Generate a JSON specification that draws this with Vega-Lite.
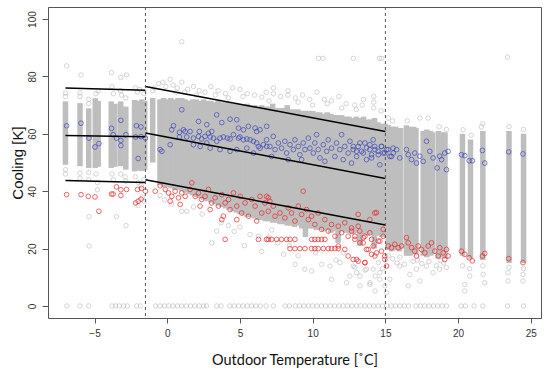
{
  "$schema": "https://vega.github.io/schema/vega-lite/v6.json",
  "width": 493,
  "height": 311,
  "autosize": {"type": "none"},
  "padding": {"left": 48, "top": 7, "right": 9, "bottom": 55},
  "background": "white",
  "config": {
    "view": {"stroke": "#555", "strokeWidth": 1},
    "axis": {"grid": false, "domain": false, "tickColor": "#555", "labelFont": "Liberation Sans", "labelFontSize": 10, "labelColor": "#333"}
  },
  "datasets": {
    "cols": [
      {"x":-7,"lo":49.2,"hi":71.3},{"x":-6,"lo":48.7,"hi":70.7},{"x":-5.4,"lo":48.1,"hi":68.9},{"x":-4.95,"lo":48.1,"hi":72.4},{"x":-4.75,"lo":48.5,"hi":71.5},
      {"x":-3.85,"lo":48.1,"hi":71.3},{"x":-3.6,"lo":48.5,"hi":70.5},{"x":-3.2,"lo":48.7,"hi":71.3},{"x":-2.85,"lo":47.5,"hi":69.5},
      {"x":-2.25,"lo":46.9,"hi":71.8},{"x":-2.0,"lo":47.2,"hi":71.5},{"x":-1.75,"lo":47,"hi":72},{"x":-1.55,"lo":47.5,"hi":71.5},
      {"x":-1.0,"lo":50,"hi":72.5},
      {"x":-0.5,"lo":42,"hi":72},{"x":-0.25,"lo":41.5,"hi":72.5},{"x":0,"lo":41.5,"hi":72},{"x":0.25,"lo":41,"hi":72.5},{"x":0.5,"lo":40.5,"hi":72},{"x":0.75,"lo":40.5,"hi":72.5},
      {"x":1.0,"lo":40,"hi":72.5},{"x":1.25,"lo":39.5,"hi":72},{"x":1.5,"lo":39,"hi":71.5},{"x":1.75,"lo":38.5,"hi":72},{"x":2.0,"lo":38,"hi":72},{"x":2.25,"lo":37.5,"hi":71.5},
      {"x":2.5,"lo":37,"hi":72},{"x":2.75,"lo":36.5,"hi":71.5},{"x":3.0,"lo":36,"hi":71.5},{"x":3.25,"lo":35.5,"hi":71},{"x":3.5,"lo":35,"hi":71.5},{"x":3.75,"lo":34.5,"hi":71},
      {"x":4.0,"lo":34,"hi":71},{"x":4.25,"lo":33.5,"hi":71},{"x":4.5,"lo":33,"hi":70.5},{"x":4.75,"lo":32.5,"hi":70.5},{"x":5.0,"lo":32,"hi":70.5},{"x":5.25,"lo":31.5,"hi":70},
      {"x":5.5,"lo":31,"hi":70.5},{"x":5.75,"lo":31,"hi":70},{"x":6.0,"lo":30.5,"hi":70},{"x":6.25,"lo":30,"hi":69.5},{"x":6.5,"lo":30,"hi":70},{"x":6.75,"lo":29.5,"hi":69.5},
      {"x":7.0,"lo":29.5,"hi":69.5},{"x":7.25,"lo":29,"hi":70.5},{"x":7.5,"lo":29,"hi":69},{"x":7.75,"lo":28.5,"hi":69},{"x":8.0,"lo":28.5,"hi":69},{"x":8.25,"lo":28,"hi":70},
      {"x":8.5,"lo":28,"hi":68.5},{"x":8.75,"lo":27.5,"hi":68.5},{"x":9.0,"lo":28,"hi":68.5},{"x":9.25,"lo":27,"hi":68},{"x":9.5,"lo":24,"hi":68},{"x":9.75,"lo":27,"hi":68},
      {"x":10.0,"lo":27,"hi":68},{"x":10.25,"lo":26.5,"hi":67.5},{"x":10.5,"lo":26.5,"hi":67.5},{"x":10.75,"lo":26,"hi":67},{"x":11.0,"lo":26.5,"hi":67.5},{"x":11.25,"lo":25.5,"hi":67},
      {"x":11.5,"lo":26,"hi":66.5},{"x":11.75,"lo":22,"hi":66.5},{"x":12.0,"lo":26,"hi":66.5},{"x":12.25,"lo":25.5,"hi":66},{"x":12.5,"lo":25.5,"hi":66},{"x":12.75,"lo":25,"hi":65.5},
      {"x":13.0,"lo":25.5,"hi":66},{"x":13.25,"lo":21,"hi":65.5},{"x":13.5,"lo":25,"hi":66},{"x":13.75,"lo":24.5,"hi":65},{"x":14.0,"lo":25,"hi":65},{"x":14.25,"lo":20,"hi":65.5},
      {"x":14.5,"lo":24.5,"hi":64},{"x":14.75,"lo":24,"hi":63.5},{"x":15.0,"lo":24,"hi":63.5},
      {"x":15.2,"lo":19.5,"hi":63},{"x":15.45,"lo":19,"hi":62.5},{"x":15.7,"lo":19.5,"hi":62.5},{"x":15.95,"lo":19,"hi":62},{"x":16.05,"lo":20,"hi":62},
      {"x":16.45,"lo":17.5,"hi":63},{"x":16.7,"lo":17.5,"hi":62.5},{"x":16.95,"lo":18,"hi":62.5},{"x":17.1,"lo":18,"hi":62},
      {"x":17.6,"lo":17.5,"hi":61},{"x":17.85,"lo":17,"hi":61.5},{"x":18.1,"lo":17.5,"hi":61},{"x":18.25,"lo":18,"hi":60.5},
      {"x":18.65,"lo":16.5,"hi":61},{"x":18.9,"lo":17,"hi":60.5},{"x":19.1,"lo":16.5,"hi":60.5},
      {"x":20.3,"lo":17.5,"hi":60},{"x":20.85,"lo":16.5,"hi":58},
      {"x":21.7,"lo":16,"hi":61},{"x":23.5,"lo":15,"hi":61},{"x":24.5,"lo":15,"hi":60}
    ],
    "gray": [
      {"x":-6.92,"y":83.7},{"x":-5.93,"y":80.5},{"x":-3.83,"y":81.3},{"x":-3.19,"y":79.6},{"x":-2.8,"y":80.5},
      {"x":-7,"y":74.2},{"x":-7,"y":73},{"x":-6,"y":73},{"x":-6,"y":74.3},{"x":-5.4,"y":72},{"x":-5.4,"y":70.5},{"x":-4.9,"y":74},{"x":-4.75,"y":75},{"x":-3.8,"y":76.5},{"x":-3.7,"y":74},{"x":-3.2,"y":75},{"x":-3.15,"y":73.5},{"x":-2.85,"y":72.5},{"x":-2.2,"y":76},{"x":-2.05,"y":74.5},{"x":-1.9,"y":75.5},{"x":-1.6,"y":74},
      {"x":-7,"y":47.5},{"x":-7,"y":46},{"x":-6,"y":46.3},{"x":-6,"y":44.5},{"x":-5.4,"y":46.5},{"x":-5.4,"y":44},{"x":-4.9,"y":46},{"x":-4.8,"y":43},{"x":-3.8,"y":46},{"x":-3.7,"y":44},{"x":-3.2,"y":46},{"x":-2.9,"y":45},{"x":-2.85,"y":43.5},{"x":-2.2,"y":45},{"x":-2.0,"y":43},{"x":-1.8,"y":42},{"x":-1.6,"y":44},
      {"x":-5.38,"y":31.1},{"x":-3.49,"y":31.1},{"x":-2.84,"y":28},{"x":-5.38,"y":20.9},{"x":-4.8,"y":40.5},{"x":-1.7,"y":38},{"x":-2.0,"y":35},{"x":-1.6,"y":36.5},
      {"x":-1.0,"y":75},{"x":-0.9,"y":76},{"x":-0.6,"y":77.5},{"x":-0.3,"y":78},{"x":-0.1,"y":76.5},{"x":0.2,"y":79},{"x":0.4,"y":77},{"x":0.7,"y":76},{"x":1.0,"y":78},{"x":1.4,"y":75.5},{"x":1.8,"y":76.5},{"x":2.2,"y":75},{"x":2.6,"y":74.5},{"x":3.0,"y":76.5},{"x":3.5,"y":75},{"x":4.0,"y":74},{"x":4.5,"y":76},{"x":5.0,"y":75.5},{"x":5.5,"y":74},{"x":6.0,"y":73.5},{"x":6.5,"y":72.8},{"x":6.8,"y":74.5},{"x":7.3,"y":76},{"x":7.3,"y":74},{"x":7.8,"y":73},{"x":8.3,"y":75},{"x":8.3,"y":73.5},{"x":8.8,"y":72.5},{"x":9.3,"y":73.5},{"x":9.8,"y":72},{"x":10.3,"y":74.5},{"x":10.8,"y":72},{"x":11.0,"y":70.5},{"x":11.3,"y":71.5},{"x":11.8,"y":73},{"x":12.3,"y":70.5},{"x":12.9,"y":70},{"x":13.4,"y":70},{"x":13.5,"y":72},{"x":13.0,"y":68.5},{"x":14.2,"y":69},{"x":14.2,"y":71},{"x":14.2,"y":73},{"x":14.7,"y":68},{"x":1.2,"y":74.5},{"x":9.0,"y":71},{"x":5.2,"y":73},{"x":3.3,"y":73.5},{"x":0.6,"y":74.5},{"x":2.0,"y":73.5},{"x":4.2,"y":72.5},{"x":7.0,"y":71.5},{"x":10.0,"y":70},{"x":12.0,"y":69},
      {"x":1.0,"y":92.1},{"x":10.4,"y":86.3},{"x":10.7,"y":86.3},{"x":12.8,"y":86.3},{"x":14.6,"y":86.3},{"x":14.75,"y":86.3},{"x":23.4,"y":86.7},
      {"x":15.2,"y":65.5},{"x":15.5,"y":64.5},{"x":16.5,"y":64.5},{"x":17.37,"y":65.5},{"x":17.94,"y":65.5},{"x":18.7,"y":62.5},{"x":19.2,"y":61.5},{"x":20.34,"y":61.4},{"x":20.9,"y":59.5},{"x":21.6,"y":62.4},{"x":21.7,"y":63.5},{"x":23.5,"y":62.5},{"x":24.5,"y":61.5},
      {"x":-0.5,"y":38.5},{"x":-0.2,"y":37},{"x":0.3,"y":35.5},{"x":1.0,"y":33},{"x":1.34,"y":33},{"x":1.8,"y":34.5},{"x":2.4,"y":32},{"x":3.06,"y":22},{"x":3.4,"y":26.1},{"x":3.7,"y":29},{"x":4.2,"y":28},{"x":4.6,"y":26},{"x":5.0,"y":27.5},{"x":5.69,"y":24.9},{"x":6.27,"y":24.3},{"x":5.3,"y":21},{"x":7.18,"y":26.5},{"x":7.6,"y":22},{"x":8.0,"y":18},{"x":8.79,"y":14.5},{"x":9.47,"y":12.8},{"x":9.93,"y":12.2},{"x":10.62,"y":14.5},{"x":11.19,"y":13.9},{"x":11.3,"y":9.3},{"x":11.88,"y":15.1},{"x":12.33,"y":8.1},{"x":12.56,"y":10.4},{"x":13.02,"y":11.6},{"x":13.25,"y":7.0},{"x":13.94,"y":8.1},{"x":14.16,"y":12.8},{"x":14.51,"y":15.1},{"x":14.62,"y":9.3},{"x":14.97,"y":7.0},{"x":6.5,"y":19},{"x":9.0,"y":17.5},{"x":10.2,"y":18.5},{"x":11.6,"y":16},{"x":12.9,"y":13.5},{"x":13.6,"y":12.5},{"x":14.3,"y":10.5},{"x":14.8,"y":13},{"x":8.4,"y":21},{"x":7.0,"y":24},{"x":12.1,"y":18.5},
      {"x":12.79,"y":13.9},{"x":13.25,"y":10.4},{"x":13.7,"y":12.8},{"x":13.93,"y":7.5},{"x":14.62,"y":11.6},{"x":15.31,"y":9.3},{"x":15.99,"y":13.9},{"x":16.57,"y":7.0},{"x":16.68,"y":11.0},{"x":17.14,"y":12.8},{"x":17.37,"y":8.7},{"x":17.83,"y":13.9},{"x":18.28,"y":11.6},{"x":18.74,"y":12.8},{"x":19.2,"y":13.4},{"x":20.46,"y":7.5},{"x":20.46,"y":5.2},{"x":20.8,"y":10.4},{"x":21.72,"y":11.0},{"x":21.83,"y":8.1},{"x":23.43,"y":11.6},{"x":23.43,"y":8.7},{"x":24.46,"y":11.0},{"x":24.46,"y":8.7},{"x":15.08,"y":4.65},{"x":14.28,"y":5.2},
      {"x":15.5,"y":16.5},{"x":15.8,"y":15},{"x":16.3,"y":14.5},{"x":16.9,"y":15.5},{"x":17.5,"y":14.8},{"x":18.0,"y":15.5},{"x":18.5,"y":14},{"x":19.0,"y":15},{"x":15.2,"y":17.5},{"x":16.0,"y":17},{"x":17.2,"y":16},{"x":18.8,"y":15.8},{"x":20.3,"y":14},{"x":20.8,"y":13},{"x":21.7,"y":14},{"x":23.5,"y":13.5},{"x":24.5,"y":13},
      {"x":-6.9,"y":0},{"x":-6.0,"y":0},{"x":-5.4,"y":0},{"x":-3.8,"y":0},{"x":-3.55,"y":0},{"x":-3.3,"y":0},{"x":-3.0,"y":0},{"x":-2.75,"y":0},{"x":-2.1,"y":0},{"x":-1.85,"y":0},
      {"x":-0.8,"y":0},{"x":-0.5,"y":0},{"x":-0.2,"y":0},{"x":0.1,"y":0},{"x":0.4,"y":0},{"x":0.7,"y":0},{"x":1.0,"y":0},{"x":1.3,"y":0},{"x":1.6,"y":0},{"x":1.9,"y":0},{"x":2.2,"y":0},{"x":2.5,"y":0},{"x":2.7,"y":0},
      {"x":3.4,"y":0},{"x":3.7,"y":0},{"x":4.3,"y":0},{"x":4.6,"y":0},{"x":4.9,"y":0},{"x":5.2,"y":0},{"x":5.5,"y":0},{"x":5.8,"y":0},{"x":6.1,"y":0},{"x":6.4,"y":0},{"x":6.8,"y":0},{"x":7.3,"y":0},{"x":8.1,"y":0},{"x":8.4,"y":0},
      {"x":8.8,"y":0},{"x":9.1,"y":0},{"x":9.4,"y":0},{"x":9.7,"y":0},{"x":10.0,"y":0},{"x":10.3,"y":0},{"x":10.6,"y":0},{"x":10.9,"y":0},{"x":11.2,"y":0},{"x":11.5,"y":0},{"x":11.8,"y":0},{"x":12.1,"y":0},{"x":12.4,"y":0},{"x":12.7,"y":0},{"x":13.0,"y":0},{"x":13.3,"y":0},{"x":13.6,"y":0},{"x":13.9,"y":0},{"x":14.2,"y":0},{"x":14.5,"y":0},{"x":14.8,"y":0},{"x":15.1,"y":0},{"x":15.4,"y":0},{"x":15.7,"y":0},{"x":16.0,"y":0},{"x":16.3,"y":0},{"x":16.6,"y":0},
      {"x":17.1,"y":0},{"x":17.4,"y":0},{"x":17.7,"y":0},{"x":18.0,"y":0},{"x":18.3,"y":0},{"x":18.6,"y":0},{"x":18.9,"y":0},{"x":19.2,"y":0},{"x":20.2,"y":0},{"x":20.5,"y":0},{"x":21.1,"y":0},{"x":21.7,"y":0},{"x":23.4,"y":0},{"x":24.5,"y":0}
    ],
    "blue": [
      {"x":-6.92,"y":62.8},{"x":-5.93,"y":63.7},{"x":-5.38,"y":58.5},{"x":-4.97,"y":55.4},{"x":-4.7,"y":56.6},{"x":-3.83,"y":61.9},{"x":-3.72,"y":59.7},{"x":-3.49,"y":58.5},{"x":-3.19,"y":64.7},{"x":-3.19,"y":57.7},{"x":-3.19,"y":55.9},{"x":-2.84,"y":59.7},{"x":-2.18,"y":58.9},{"x":-2.12,"y":62.8},{"x":-1.81,"y":62.4},{"x":-2.0,"y":51.4},{"x":-1.8,"y":59},{"x":-1.5,"y":58.5},
      {"x":1.0,"y":68.4},{"x":0.43,"y":62.8},{"x":0.31,"y":61.4},{"x":0.84,"y":60.5},{"x":1.11,"y":61.4},{"x":1.23,"y":60.8},{"x":1.57,"y":60.8},{"x":2.15,"y":64.3},{"x":2.21,"y":60.8},{"x":2.72,"y":63.2},{"x":2.83,"y":60.2},{"x":3.06,"y":60.8},{"x":3.4,"y":66.6},{"x":3.75,"y":63.9},{"x":4.32,"y":65.1},{"x":4.78,"y":64.9},{"x":4.9,"y":62.0},{"x":5.24,"y":61.4},{"x":5.58,"y":62.6},{"x":6.04,"y":62.0},{"x":6.15,"y":60.8},{"x":6.38,"y":61.4},{"x":6.84,"y":62.6},
      {"x":0.2,"y":56.2},{"x":-0.49,"y":54.5},{"x":-0.37,"y":53.9},{"x":0.84,"y":58.9},{"x":1.34,"y":58.9},{"x":1.8,"y":58.5},{"x":2.15,"y":59.1},{"x":2.37,"y":58.2},{"x":2.6,"y":59.1},{"x":2.95,"y":58.9},{"x":3.18,"y":58.5},{"x":3.63,"y":58.5},{"x":3.86,"y":58.9},{"x":4.14,"y":58.5},{"x":4.32,"y":58.2},{"x":4.55,"y":59.7},{"x":4.9,"y":58.5},{"x":5.0,"y":58.9},{"x":5.24,"y":57.9},{"x":5.47,"y":58.2},{"x":5.7,"y":57.9},{"x":5.93,"y":57.4},{"x":6.15,"y":56.8},{"x":6.27,"y":55.6},{"x":6.38,"y":55.0},{"x":6.61,"y":56.2},{"x":6.84,"y":55.6},{"x":2.72,"y":56.8},{"x":3.63,"y":54.5},{"x":4.32,"y":53.9},{"x":4.78,"y":54.5},{"x":5.47,"y":55.0},{"x":5.93,"y":53.3},{"x":3.4,"y":57.4},{"x":1.8,"y":56.2},{"x":2.26,"y":55.6},{"x":2.95,"y":55.0},
      {"x":6.83,"y":57.9},{"x":7.06,"y":55.6},{"x":7.29,"y":59.1},{"x":7.41,"y":54.5},{"x":7.64,"y":56.8},{"x":7.86,"y":55.0},{"x":8.09,"y":57.4},{"x":8.21,"y":53.3},{"x":8.44,"y":56.2},{"x":8.67,"y":54.5},{"x":8.78,"y":57.9},{"x":9.01,"y":55.6},{"x":9.12,"y":52.7},{"x":9.35,"y":56.8},{"x":9.47,"y":54.5},{"x":9.7,"y":58.5},{"x":9.81,"y":55.0},{"x":10.04,"y":53.3},{"x":10.15,"y":56.8},{"x":10.38,"y":54.5},{"x":10.5,"y":51.6},{"x":10.73,"y":56.2},{"x":10.96,"y":53.9},{"x":11.07,"y":57.9},{"x":11.3,"y":55.0},{"x":11.53,"y":52.1},{"x":11.64,"y":56.8},{"x":11.87,"y":54.5},{"x":12.1,"y":51.0},{"x":12.21,"y":55.6},{"x":12.44,"y":53.3},{"x":12.56,"y":57.4},{"x":12.79,"y":54.5},{"x":13.02,"y":52.1},{"x":13.13,"y":55.6},{"x":13.36,"y":53.9},{"x":13.59,"y":56.8},{"x":13.7,"y":51.0},{"x":13.93,"y":54.5},{"x":14.05,"y":52.7},{"x":14.27,"y":55.6},{"x":14.5,"y":53.9},{"x":14.62,"y":49.2},{"x":14.73,"y":55.6},{"x":14.96,"y":53.3},{"x":15.19,"y":54.5},{"x":15.42,"y":52.1},{"x":15.53,"y":55.0},{"x":8.32,"y":51.0},{"x":9.24,"y":51.0},{"x":10.84,"y":50.4},{"x":12.67,"y":49.8},{"x":7.18,"y":52.1},{"x":10.27,"y":59.7},{"x":11.99,"y":59.7},{"x":14.16,"y":57.9},
      {"x":12.79,"y":55.6},{"x":13.02,"y":53.9},{"x":13.25,"y":56.8},{"x":13.48,"y":53.3},{"x":13.7,"y":55.1},{"x":13.93,"y":56.2},{"x":14.05,"y":51.6},{"x":14.28,"y":54.5},{"x":14.51,"y":52.7},{"x":14.73,"y":55.6},{"x":14.85,"y":53.3},{"x":15.08,"y":54.5},{"x":15.31,"y":52.1},{"x":15.54,"y":53.3},{"x":15.77,"y":54.5},{"x":15.99,"y":51.6},{"x":16.45,"y":54.5},{"x":16.57,"y":52.7},{"x":16.8,"y":51.0},{"x":17.02,"y":53.3},{"x":17.14,"y":49.8},{"x":17.37,"y":52.2},{"x":17.6,"y":50.4},{"x":17.83,"y":57.4},{"x":18.05,"y":53.9},{"x":18.28,"y":51.6},{"x":18.56,"y":48.1},{"x":18.74,"y":52.2},{"x":18.86,"y":51.0},{"x":19.08,"y":53.3},{"x":19.2,"y":47.5},{"x":19.31,"y":53.9},{"x":20.23,"y":52.7},{"x":20.46,"y":52.4},{"x":20.76,"y":50.6},{"x":20.98,"y":50.6},{"x":21.67,"y":54.2},{"x":21.83,"y":49.8},{"x":23.48,"y":53.7},{"x":24.46,"y":53.0}
    ],
    "red": [
      {"x":-6.92,"y":38.8},{"x":-5.93,"y":38.8},{"x":-5.43,"y":38.2},{"x":-4.97,"y":38},{"x":-4.7,"y":33},{"x":-3.83,"y":39},{"x":-3.72,"y":39},{"x":-3.49,"y":41.5},{"x":-3.19,"y":40.5},{"x":-3.19,"y":38.5},{"x":-2.8,"y":40.6},{"x":-2.18,"y":35.9},{"x":-2.0,"y":36.5},{"x":-1.8,"y":37.2},{"x":-2.05,"y":40.6},{"x":-1.77,"y":41},{"x":-1.5,"y":40},
      {"x":-0.83,"y":40.0},{"x":-0.49,"y":41.9},{"x":-0.14,"y":40.6},{"x":0.09,"y":39.4},{"x":0.31,"y":38.2},{"x":0.54,"y":40.0},{"x":0.77,"y":37.7},{"x":1.0,"y":39.4},{"x":1.23,"y":38.2},{"x":1.57,"y":40.6},{"x":1.69,"y":42.9},{"x":1.92,"y":38.2},{"x":2.15,"y":39.4},{"x":2.37,"y":37.1},{"x":2.6,"y":38.2},{"x":2.83,"y":40.6},{"x":3.06,"y":35.9},{"x":3.29,"y":37.7},{"x":3.52,"y":34.8},{"x":3.75,"y":38.8},{"x":3.86,"y":31.3},{"x":3.98,"y":35.9},{"x":4.21,"y":37.1},{"x":4.32,"y":33.6},{"x":4.55,"y":39.4},{"x":4.78,"y":34.8},{"x":5.01,"y":38.2},{"x":5.12,"y":32.4},{"x":5.35,"y":35.9},{"x":5.58,"y":31.3},{"x":5.81,"y":37.1},{"x":6.04,"y":34.8},{"x":6.15,"y":29.6},{"x":6.38,"y":38.2},{"x":6.5,"y":32.4},{"x":6.72,"y":35.9},{"x":6.95,"y":37.7},{"x":3.75,"y":30.1},{"x":3.98,"y":23.2},{"x":4.78,"y":30.1},{"x":6.27,"y":23.2},{"x":6.95,"y":23.2},{"x":0.2,"y":36.5},{"x":0.89,"y":35.4},{"x":2.26,"y":34.8},{"x":2.95,"y":33.6},
      {"x":6.83,"y":38.2},{"x":7.06,"y":36.5},{"x":7.29,"y":34.8},{"x":6.95,"y":33.0},{"x":7.41,"y":31.3},{"x":7.75,"y":32.4},{"x":8.09,"y":30.7},{"x":8.32,"y":34.2},{"x":8.55,"y":32.4},{"x":8.78,"y":29.6},{"x":9.01,"y":34.8},{"x":9.24,"y":31.9},{"x":9.35,"y":40.0},{"x":9.58,"y":33.6},{"x":9.7,"y":30.1},{"x":9.93,"y":31.3},{"x":10.15,"y":28.4},{"x":10.38,"y":32.4},{"x":10.61,"y":26.7},{"x":10.84,"y":30.1},{"x":11.07,"y":26.1},{"x":11.3,"y":28.4},{"x":11.53,"y":24.3},{"x":11.76,"y":27.8},{"x":11.99,"y":25.5},{"x":12.21,"y":29.0},{"x":12.44,"y":24.3},{"x":12.67,"y":27.2},{"x":12.9,"y":23.2},{"x":13.13,"y":31.9},{"x":13.24,"y":26.1},{"x":13.47,"y":22.0},{"x":13.59,"y":24.3},{"x":13.82,"y":19.7},{"x":14.05,"y":23.2},{"x":14.27,"y":32.4},{"x":14.39,"y":18.5},{"x":14.62,"y":22.6},{"x":14.85,"y":26.7},{"x":14.96,"y":17.4},{"x":12.44,"y":17.4},{"x":12.79,"y":16.2},{"x":13.13,"y":15.6},{"x":13.59,"y":15.1},{"x":14.05,"y":18.0},{"x":12.21,"y":19.7},{"x":11.76,"y":20.9},
      {"x":6.83,"y":23.2},{"x":7.18,"y":23.2},{"x":7.52,"y":23.2},{"x":7.86,"y":23.2},{"x":8.21,"y":23.2},{"x":8.44,"y":23.2},{"x":8.78,"y":23.2},{"x":9.93,"y":23.2},{"x":10.15,"y":23.2},{"x":10.38,"y":23.2},{"x":10.61,"y":23.2},{"x":10.84,"y":23.2},
      {"x":8.44,"y":20.0},{"x":8.78,"y":20.0},{"x":9.12,"y":20.0},{"x":9.47,"y":20.0},{"x":9.93,"y":20.0},{"x":10.15,"y":20.0},{"x":10.38,"y":20.0},{"x":10.73,"y":20.0},{"x":11.07,"y":20.0},{"x":11.3,"y":20.0},{"x":11.53,"y":20.0},{"x":11.76,"y":20.0},
      {"x":12.67,"y":26.1},{"x":12.9,"y":24.3},{"x":13.13,"y":27.8},{"x":13.25,"y":22.0},{"x":13.48,"y":23.8},{"x":13.7,"y":19.7},{"x":13.93,"y":25.5},{"x":14.16,"y":20.9},{"x":14.28,"y":17.4},{"x":14.51,"y":22.6},{"x":14.73,"y":19.1},{"x":14.85,"y":24.3},{"x":14.96,"y":16.2},{"x":15.19,"y":20.9},{"x":15.42,"y":20.3},{"x":15.65,"y":21.5},{"x":15.88,"y":20.3},{"x":16.11,"y":20.9},{"x":16.45,"y":23.8},{"x":16.57,"y":22.0},{"x":16.8,"y":20.3},{"x":17.02,"y":19.1},{"x":17.14,"y":17.4},{"x":17.25,"y":20.9},{"x":17.48,"y":19.7},{"x":17.71,"y":18.5},{"x":17.94,"y":20.9},{"x":18.17,"y":22.0},{"x":18.4,"y":19.1},{"x":18.63,"y":17.4},{"x":18.74,"y":20.3},{"x":18.97,"y":18.5},{"x":19.08,"y":16.2},{"x":19.2,"y":19.7},{"x":19.31,"y":17.4},{"x":13.02,"y":16.2},{"x":13.59,"y":15.1},{"x":15.08,"y":13.9},{"x":13.93,"y":30.1},{"x":14.39,"y":32.5},
      {"x":20.23,"y":19.1},{"x":20.46,"y":18.0},{"x":20.76,"y":16.8},{"x":20.98,"y":15.7},{"x":21.67,"y":17.4},{"x":21.83,"y":18.3},{"x":23.48,"y":16.5},{"x":24.46,"y":15.1}
    ],
    "fits": [
      {"seg":"a1","x":-7,"y":76},{"seg":"a1","x":-1.5,"y":75.2},
      {"seg":"a2","x":-7,"y":59.4},{"seg":"a2","x":-1.5,"y":59.0},
      {"seg":"a3","x":-7,"y":43.7},{"seg":"a3","x":-1.5,"y":43.0},
      {"seg":"b1","x":-1.5,"y":76.5},{"seg":"b1","x":15,"y":60.8},
      {"seg":"b2","x":-1.5,"y":60.3},{"seg":"b2","x":15,"y":44.4},
      {"seg":"b3","x":-1.5,"y":44.0},{"seg":"b3","x":15,"y":28.2}
    ],
    "vlines": [{"x":-1.5},{"x":15}]
  },
  "layer": [
    {
      "data": {"name": "cols"},
      "mark": {"type": "rule", "color": "#bebebe", "strokeWidth": 5.5},
      "encoding": {
        "x": {"field": "x", "type": "quantitative", "title": "Outdoor Temperature [˚C]",
              "scale": {"domain": [-8.2, 25.7], "nice": false, "zero": false},
              "axis": {"values": [-5,0,5,10,15,20,25], "tickSize": 5, "labelPadding": 5, "titleFont": "Lato", "titleFontSize": 14.5, "titleFontWeight": "normal", "titleColor": "#111", "titleX": 246.5, "titleY": 42, "titleBaseline": "middle"}},
        "y": {"field": "lo", "type": "quantitative", "title": "Cooling [K]",
              "scale": {"domain": [-4.2, 104.2], "nice": false, "zero": false},
              "axis": {"values": [0,20,40,60,80,100], "tickSize": 6, "labelAngle": -90, "labelAlign": "center", "labelBaseline": "bottom", "labelPadding": 5, "titleFont": "Liberation Sans", "titleFontSize": 15, "titleFontWeight": "normal", "titleColor": "#111", "titleX": -31, "titleY": 155.5, "titleBaseline": "middle", "titleAngle": -90}},
        "y2": {"field": "hi"}
      }
    },
    {
      "data": {"name": "gray"},
      "mark": {"type": "point", "shape": "circle", "filled": false, "color": "#b4b4b4", "size": 20, "strokeWidth": 0.8},
      "encoding": {
        "x": {"field": "x", "type": "quantitative", "title": "Outdoor Temperature [˚C]"},
        "y": {"field": "y", "type": "quantitative", "title": "Cooling [K]"}
      }
    },
    {
      "data": {"name": "blue"},
      "mark": {"type": "point", "shape": "circle", "filled": false, "color": "#3c46b8", "size": 22, "strokeWidth": 1},
      "encoding": {
        "x": {"field": "x", "type": "quantitative", "title": "Outdoor Temperature [˚C]"},
        "y": {"field": "y", "type": "quantitative", "title": "Cooling [K]"}
      }
    },
    {
      "data": {"name": "red"},
      "mark": {"type": "point", "shape": "circle", "filled": false, "color": "#ee2222", "size": 22, "strokeWidth": 1},
      "encoding": {
        "x": {"field": "x", "type": "quantitative", "title": "Outdoor Temperature [˚C]"},
        "y": {"field": "y", "type": "quantitative", "title": "Cooling [K]"}
      }
    },
    {
      "data": {"name": "fits"},
      "mark": {"type": "line", "color": "black", "strokeWidth": 1.5},
      "encoding": {
        "x": {"field": "x", "type": "quantitative", "title": "Outdoor Temperature [˚C]"},
        "y": {"field": "y", "type": "quantitative", "title": "Cooling [K]"},
        "detail": {"field": "seg"}
      }
    },
    {
      "data": {"name": "vlines"},
      "mark": {"type": "rule", "color": "#555", "strokeWidth": 1, "strokeDash": [3, 3]},
      "encoding": {
        "x": {"field": "x", "type": "quantitative", "title": "Outdoor Temperature [˚C]"}
      }
    }
  ]
}
